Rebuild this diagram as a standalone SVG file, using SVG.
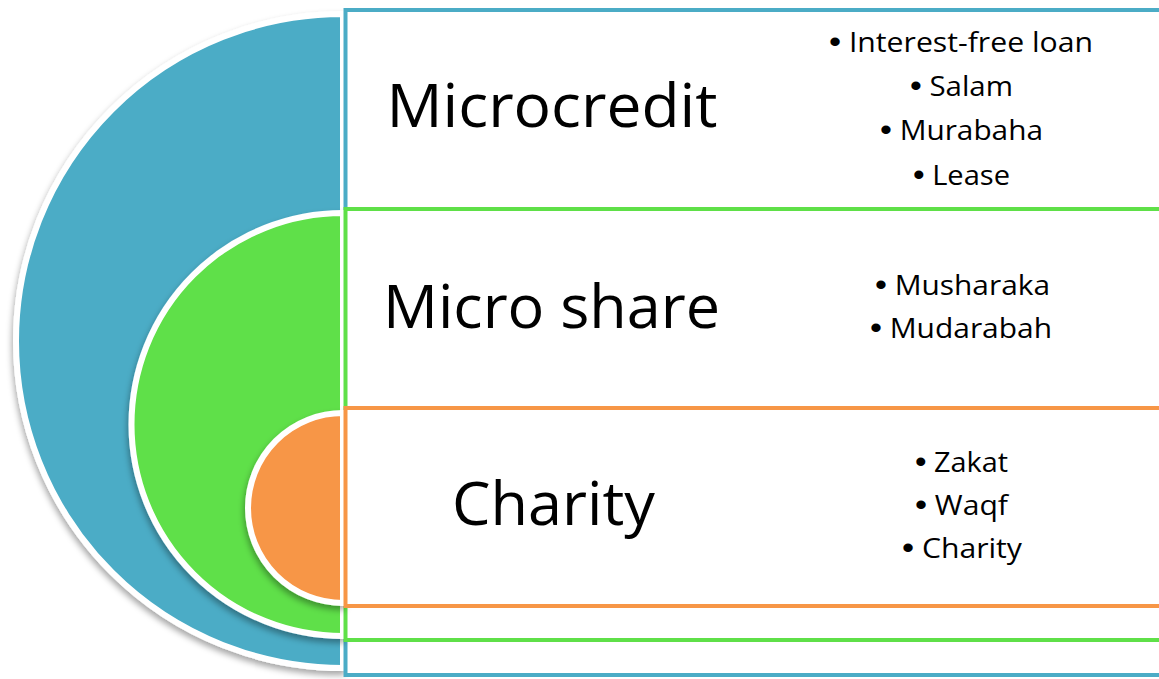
<svg xmlns="http://www.w3.org/2000/svg" width="1159" height="679" viewBox="0 0 1159 679">
  <defs>
    <filter id="shadow" x="-20%" y="-20%" width="140%" height="140%">
      <feDropShadow dx="-1" dy="4" stdDeviation="3" flood-color="#000" flood-opacity="0.35"/>
    </filter>
    <style>
      .arc { stroke: #ffffff; stroke-width: 6; filter: url(#shadow); }
      .box { fill: #ffffff; stroke-width: 4; }
      .title { font-family: "Open Sans", "Liberation Sans", sans-serif; font-size: 60px; fill: #000; text-anchor: middle; }
      .item { font-family: "Open Sans", "Liberation Sans", sans-serif; font-size: 28px; fill: #000; text-anchor: middle; }
      .dot { font-family: "Liberation Sans", sans-serif; font-size: 32px; }
    </style>
  </defs>
  <rect width="1159" height="679" fill="#ffffff"/>

  <!-- Microcredit layer -->
  <g id="microcredit">
    <path class="arc" d="M343,14 A327,327 0 0 0 343,668 Z" fill="#4BACC6"/>
    <rect class="box" x="345.5" y="10" width="820" height="665" stroke="#4BACC6"/>
    <text class="title" x="552" y="127" textLength="331" lengthAdjust="spacingAndGlyphs">Microcredit</text>
    <g class="item">
      <text x="961" y="52" textLength="264" lengthAdjust="spacingAndGlyphs"><tspan class="dot">•</tspan> Interest-free loan</text>
      <text x="961.5" y="96" textLength="103" lengthAdjust="spacingAndGlyphs"><tspan class="dot">•</tspan> Salam</text>
      <text x="961.5" y="140" textLength="163" lengthAdjust="spacingAndGlyphs"><tspan class="dot">•</tspan> Murabaha</text>
      <text x="961.5" y="185" textLength="97" lengthAdjust="spacingAndGlyphs"><tspan class="dot">•</tspan> Lease</text>
    </g>
  </g>

  <!-- Micro share layer -->
  <g id="micro-share">
    <path class="arc" d="M343,213 A211.5,211.5 0 0 0 343,636 Z" fill="#5FE048"/>
    <rect class="box" x="345.5" y="209" width="820" height="431" stroke="#5FE048"/>
    <text class="title" x="551.5" y="328" textLength="337" lengthAdjust="spacingAndGlyphs">Micro share</text>
    <g class="item">
      <text x="962.5" y="295" textLength="175" lengthAdjust="spacingAndGlyphs"><tspan class="dot">•</tspan> Musharaka</text>
      <text x="961" y="338" textLength="182" lengthAdjust="spacingAndGlyphs"><tspan class="dot">•</tspan> Mudarabah</text>
    </g>
  </g>

  <!-- Charity layer -->
  <g id="charity">
    <path class="arc" d="M343,413 A95,95 0 0 0 343,603 Z" fill="#F79646"/>
    <rect class="box" x="345.5" y="408" width="820" height="198" stroke="#F79646"/>
    <text class="title" x="553.5" y="525" textLength="203" lengthAdjust="spacingAndGlyphs">Charity</text>
    <g class="item">
      <text x="961.5" y="472" textLength="93" lengthAdjust="spacingAndGlyphs"><tspan class="dot">•</tspan> Zakat</text>
      <text x="961.5" y="515" textLength="93" lengthAdjust="spacingAndGlyphs"><tspan class="dot">•</tspan> Waqf</text>
      <text x="962" y="558" textLength="120" lengthAdjust="spacingAndGlyphs"><tspan class="dot">•</tspan> Charity</text>
    </g>
  </g>

  <!-- connectors: none between layers -->
  <g id="connectors"/>
</svg>
